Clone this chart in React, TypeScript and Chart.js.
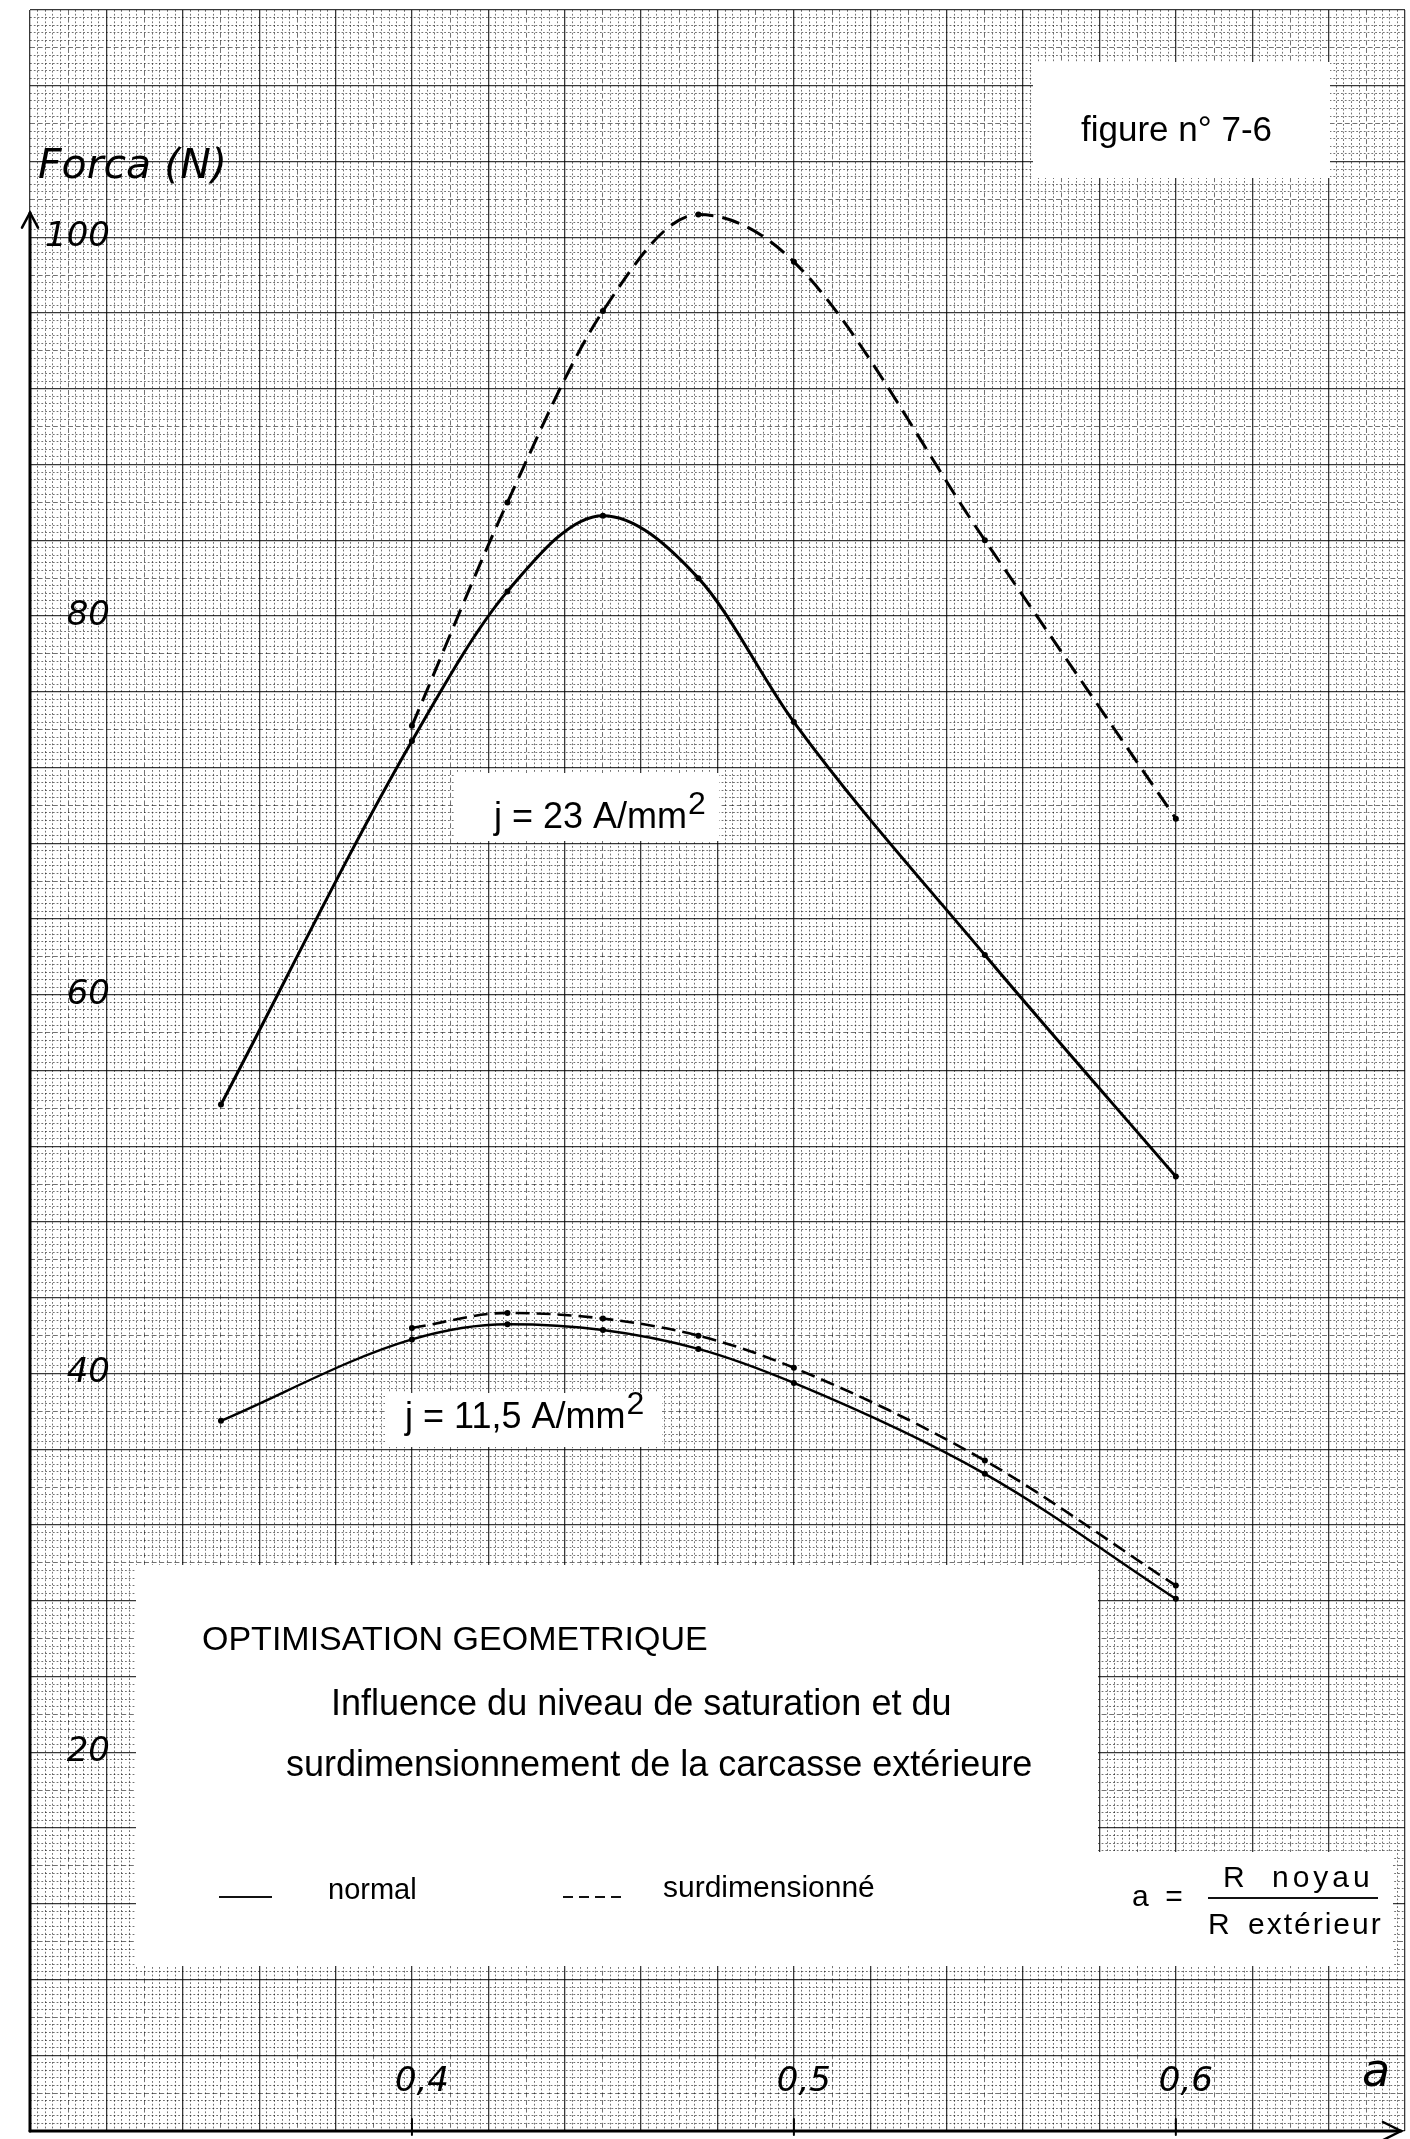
import React, { useEffect, useRef } from 'react';
import { Chart, registerables } from 'chart.js';

Chart.register(...registerables);

// ---------- data ----------
const aNormal = [0.35, 0.4, 0.425, 0.45, 0.475, 0.5, 0.55, 0.6];
const aOver = [0.4, 0.425, 0.45, 0.475, 0.5, 0.55, 0.6];
const force23Normal = [54.2, 73.4, 81.3, 85.3, 82.0, 74.4, 62.1, 50.4];
const force23Over = [74.2, 86.0, 96.1, 101.2, 98.7, 84.0, 69.3];
const force115Normal = [37.5, 41.8, 42.6, 42.3, 41.3, 39.5, 34.7, 28.1];
const force115Over = [42.4, 43.2, 42.9, 42.0, 40.3, 35.4, 28.8];

const yTickValues = [20, 40, 60, 80, 100];
const yTickLabels = ['20', '40', '60', '80', '100'];
const xTickValues = [0.4, 0.5, 0.6];
const xTickLabels = ['0,4', '0,5', '0,6'];

const yAxisTitle = 'Forca (N)';
const xAxisTitle = 'a';
const figureLabel = 'figure n° 7-6';
const curveLabel23 = 'j = 23 A/mm';
const curveLabel115 = 'j = 11,5 A/mm';
const titleLines = [
  'OPTIMISATION GEOMETRIQUE',
  'Influence du niveau de saturation et du',
  'surdimensionnement de la carcasse extérieure',
];
const legendNormal = 'normal';
const legendOver = 'surdimensionné';
const ratioLabel = 'a  =';
const ratioNum = ['R', 'noyau'];
const ratioDen = ['R', 'extérieur'];

const SANS = '"Liberation Sans", Arial, Helvetica, sans-serif';
const HAND = '"DejaVu Sans", sans-serif';

const pts = (xs: number[], ys: number[]) => xs.map((x, i) => ({ x, y: ys[i] }));

const near = (v: number, list: number[]) => list.findIndex((t) => Math.abs(v - t) < 1e-6);

function gridLevel(v: number, step: number) {
  const k = Math.round(v / step);
  if (k % 10 === 0) return 2;
  if (k % 5 === 0) return 1;
  return 0;
}

const gridColor = (step: number) => (ctx: any) => {
  if (!ctx.tick) return 'rgba(0,0,0,0)';
  const l = gridLevel(ctx.tick.value, step);
  return l === 2 ? 'rgba(0,0,0,0.78)' : 'rgba(0,0,0,0.55)';
};
const gridWidth = (step: number) => (ctx: any) => {
  if (!ctx.tick) return 1;
  const l = gridLevel(ctx.tick.value, step);
  return l === 2 ? 1.3 : 1;
};
const gridDash = (step: number) => (ctx: any) => {
  if (!ctx.tick) return [];
  const l = gridLevel(ctx.tick.value, step);
  return l === 2 ? [] : l === 1 ? [5, 2.6] : [1.8, 2];
};

function drawSup(ctx: CanvasRenderingContext2D, text: string, sup: string, x: number, y: number, size: number) {
  ctx.font = `${size}px ${SANS}`;
  ctx.fillText(text, x, y);
  const w = ctx.measureText(text).width;
  ctx.font = `${Math.round(size * 0.9)}px ${SANS}`;
  ctx.fillText(sup, x + w + 1, y - size * 0.4);
}

const zeroPad = (s: any) => {
  s.paddingTop = 0;
  s.paddingBottom = 0;
  s.paddingLeft = 0;
  s.paddingRight = 0;
};

const paperPlugin = {
  id: 'paperNotes',
  beforeDraw(chart: any) {
    const { ctx, width, height } = chart;
    ctx.save();
    ctx.fillStyle = '#fff';
    ctx.fillRect(0, 0, width, height);
    ctx.restore();
  },
  beforeDatasetsDraw(chart: any) {
    const ctx: CanvasRenderingContext2D = chart.ctx;
    ctx.save();
    // pasted white labels
    ctx.fillStyle = '#fff';
    const boxes = [
      [1033, 62, 1330, 178],
      [454, 773, 719, 841],
      [385, 1393, 662, 1447],
      [136, 1565, 1098, 1966],
      [1098, 1852, 1393, 1966],
    ];
    for (const [x0, y0, x1, y1] of boxes) ctx.fillRect(x0, y0, x1 - x0, y1 - y0);

    ctx.fillStyle = '#000';
    ctx.textBaseline = 'alphabetic';
    ctx.textAlign = 'left';
    ctx.font = `35px ${SANS}`;
    ctx.fillText(figureLabel, 1081, 141);

    drawSup(ctx, curveLabel23, '2', 494, 828, 36);
    drawSup(ctx, curveLabel115, '2', 405, 1428, 36);

    ctx.font = `34px ${SANS}`;
    ctx.fillText(titleLines[0], 202, 1650);
    ctx.font = `36px ${SANS}`;
    ctx.fillText(titleLines[1], 331, 1715);
    ctx.fillText(titleLines[2], 286, 1776);

    // legend row
    ctx.strokeStyle = '#111';
    ctx.lineWidth = 2;
    ctx.beginPath();
    ctx.moveTo(219, 1897);
    ctx.lineTo(272, 1897);
    ctx.stroke();
    ctx.setLineDash([10, 6]);
    ctx.beginPath();
    ctx.moveTo(563, 1897);
    ctx.lineTo(627, 1897);
    ctx.stroke();
    ctx.setLineDash([]);
    ctx.font = `29px ${SANS}`;
    ctx.fillText(legendNormal, 328, 1899);
    ctx.font = `30px ${SANS}`;
    ctx.fillText(legendOver, 663, 1897);

    // a = R noyau / R exterieur
    ctx.font = `30px ${SANS}`;
    ctx.fillText(ratioLabel, 1132, 1906);
    ctx.beginPath();
    ctx.moveTo(1208, 1898);
    ctx.lineTo(1378, 1898);
    ctx.stroke();
    (ctx as any).letterSpacing = '4px';
    ctx.fillText(ratioNum[0], 1223, 1887);
    ctx.fillText(ratioNum[1], 1272, 1887);
    (ctx as any).letterSpacing = '2px';
    ctx.fillText(ratioDen[0], 1208, 1934);
    ctx.fillText(ratioDen[1], 1248, 1934);
    (ctx as any).letterSpacing = '0px';
    ctx.restore();
  },
  afterDraw(chart: any) {
    const ctx: CanvasRenderingContext2D = chart.ctx;
    const { left, right, bottom } = chart.chartArea;
    const xs = chart.scales.x;
    const ys = chart.scales.y;
    ctx.save();
    ctx.strokeStyle = '#000';
    ctx.lineWidth = 3;
    ctx.lineCap = 'round';
    const yTop = ys.getPixelForValue(101.3);
    ctx.beginPath();
    ctx.moveTo(left, bottom);
    ctx.lineTo(left, yTop);
    ctx.stroke();
    ctx.lineWidth = 2.5;
    ctx.beginPath();
    ctx.moveTo(left - 8, yTop + 15);
    ctx.lineTo(left, yTop);
    ctx.lineTo(left + 8, yTop + 15);
    ctx.stroke();
    ctx.lineWidth = 3;
    ctx.beginPath();
    ctx.moveTo(left, bottom);
    ctx.lineTo(right - 4, bottom);
    ctx.stroke();
    ctx.lineWidth = 2.5;
    ctx.beginPath();
    ctx.moveTo(right - 22, bottom - 9);
    ctx.lineTo(right - 4, bottom);
    ctx.lineTo(right - 22, bottom + 9);
    ctx.stroke();
    // ticks on x axis
    ctx.lineWidth = 2;
    for (const v of xTickValues) {
      const px = xs.getPixelForValue(v);
      ctx.beginPath();
      ctx.moveTo(px, bottom - 12);
      ctx.lineTo(px, bottom + 4);
      ctx.stroke();
    }
    // handwritten titles
    ctx.fillStyle = '#000';
    ctx.textBaseline = 'alphabetic';
    ctx.font = `italic 41px ${HAND}`;
    ctx.fillText(yAxisTitle, 38, 178);
    ctx.font = `italic 46px ${HAND}`;
    ctx.fillText(xAxisTitle, 1362, 2086);
    ctx.restore();
  },
};

export default function App() {
  const ref = useRef<HTMLCanvasElement>(null);
  useEffect(() => {
    document.body.style.margin = '0';
    const canvas = ref.current;
    if (!canvas) return;
    const lineBase = {
      borderColor: '#000',
      backgroundColor: '#000',
      pointRadius: 3,
      pointBackgroundColor: '#000',
      pointBorderWidth: 0,
      cubicInterpolationMode: 'monotone' as const,
      fill: false,
    };
    const chart = new Chart(canvas, {
      type: 'line',
      data: {
        datasets: [
          { ...lineBase, label: 'j=23 normal', data: pts(aNormal, force23Normal), borderWidth: 3 },
          { ...lineBase, label: 'j=23 surdimensionné', data: pts(aOver, force23Over), borderWidth: 3, borderDash: [18, 9] },
          { ...lineBase, label: 'j=11,5 normal', data: pts(aNormal, force115Normal), borderWidth: 2.4 },
          { ...lineBase, label: 'j=11,5 surdimensionné', data: pts(aOver, force115Over), borderWidth: 2.6, borderDash: [14, 7] },
        ],
      },
      options: {
        animation: false,
        responsive: false,
        maintainAspectRatio: false,
        layout: { padding: { left: 30, right: 5, top: 10, bottom: 8 } },
        plugins: { legend: { display: false }, tooltip: { enabled: false } },
        scales: {
          x: {
            type: 'linear',
            position: 'bottom',
            min: 0.3,
            max: 0.66,
            afterFit: (s: any) => { s.height = 0; zeroPad(s); },
            grid: { color: gridColor(0.002), lineWidth: gridWidth(0.002), drawTicks: false },
            border: { display: false, dash: gridDash(0.002) },
            ticks: {
              stepSize: 0.002,
              autoSkip: false,
              maxRotation: 0,
              minRotation: 0,
              mirror: true,
              padding: 28,
              labelOffset: 10,
              color: '#000',
              font: { family: HAND, size: 34, style: 'italic' },
              callback: (v: any) => {
                const i = near(Number(v), xTickValues);
                return i >= 0 ? xTickLabels[i] : '';
              },
            },
          },
          y: {
            type: 'linear',
            position: 'left',
            min: 0,
            max: 112,
            afterFit: (s: any) => { s.width = 0; zeroPad(s); },
            grid: { color: gridColor(0.4), lineWidth: gridWidth(0.4), drawTicks: false },
            border: { display: false, dash: gridDash(0.4) },
            ticks: {
              stepSize: 0.4,
              autoSkip: false,
              mirror: true,
              crossAlign: 'far',
              padding: 15,
              color: '#000',
              font: { family: HAND, size: 34, style: 'italic' },
              callback: (v: any) => {
                const i = near(Number(v), yTickValues);
                return i >= 0 ? yTickLabels[i] : '';
              },
            },
          },
        },
      },
      plugins: [paperPlugin],
    } as any);
    return () => chart.destroy();
  }, []);
  return (
    <canvas
      ref={ref}
      width={1410}
      height={2139}
      style={{ display: 'block', position: 'absolute', left: 0, top: 0, width: 1410, height: 2139 }}
    />
  );
}
